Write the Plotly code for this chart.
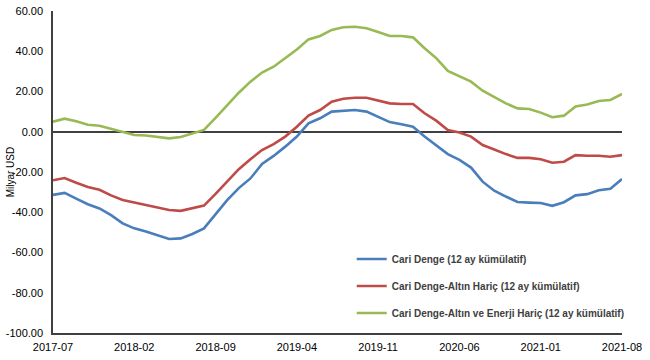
import plotly.graph_objects as go

months = [f"{2017 + (6 + i) // 12}-{(6 + i) % 12 + 1:02d}" for i in range(50)]

cari_denge = [-31.4, -30.4, -33.2, -36.0, -38.1, -41.4, -45.5, -48.0, -49.6, -51.6,
              -53.3, -53.0, -50.8, -48.0, -41.0, -34.0, -28.0, -23.2, -16.0, -12.0,
              -7.4, -2.4, 4.2, 6.7, 10.0, 10.3, 10.8, 10.0, 7.5, 4.8,
              3.7, 2.5, -2.4, -6.6, -11.1, -14.0, -17.8, -24.8, -29.3, -32.2,
              -34.9, -35.2, -35.4, -36.8, -35.0, -31.6, -31.0, -29.1, -28.3, -23.5]

altin_haric = [-24.1, -23.0, -25.3, -27.4, -28.8, -31.6, -33.9, -35.1, -36.5, -37.6,
               -38.9, -39.3, -38.1, -36.7, -30.9, -25.0, -18.6, -13.7, -9.1, -6.1,
               -2.4, 2.5, 8.0, 10.8, 14.9, 16.4, 16.9, 16.9, 15.4, 14.1,
               13.8, 13.8, 9.2, 5.5, 0.9, -0.4, -2.4, -6.6, -8.8, -11.1,
               -13.0, -13.0, -13.7, -15.4, -14.9, -11.6, -11.9, -11.9, -12.4, -11.6]

altin_enerji_haric = [5.0, 6.5, 5.2, 3.5, 3.0, 1.4, -0.3, -1.6, -1.9, -2.6,
                      -3.3, -2.6, -0.8, 0.9, 6.9, 13.1, 19.4, 24.9, 29.4, 32.3,
                      36.5, 40.9, 45.9, 47.6, 50.6, 51.9, 52.2, 51.4, 49.6, 47.6,
                      47.6, 46.9, 41.5, 36.6, 30.2, 27.7, 24.9, 20.4, 17.4, 14.1,
                      11.6, 11.3, 9.5, 7.2, 8.0, 12.5, 13.5, 15.3, 15.8, 18.8]

series_names = ["Cari Denge (12 ay kümülatif)",
                "Cari Denge-Altın Hariç (12 ay kümülatif)",
                "Cari Denge-Altın ve Enerji Hariç (12 ay kümülatif)"]
series_values = [cari_denge, altin_haric, altin_enerji_haric]
colors = ["#4A7EBB", "#BE4B48", "#98B954"]

tick_labels = months[::7]
y_ticks = [-100, -80, -60, -40, -20, 0, 20, 40, 60]

fig = go.Figure()
for i, (name, vals, col) in enumerate(zip(series_names, series_values, colors)):
    fig.add_trace(go.Scatter(x=months, y=vals, mode="lines", name=name,
                             legendgroup=f"g{i}",
                             line=dict(color=col, width=2.6)))

fig.update_layout(
    width=650, height=360,
    margin=dict(l=53, r=28, t=11, b=27),
    paper_bgcolor="white", plot_bgcolor="white",
    font=dict(family="Liberation Sans, Arial, sans-serif", color="#000000"),
    legend=dict(x=0.525, y=0.275, xanchor="left", yanchor="top",
                font=dict(size=10, color="#404040", weight="bold",
                          family="Liberation Sans, Arial, sans-serif"),
                itemwidth=30, tracegroupgap=8, bgcolor="rgba(0,0,0,0)",
                traceorder="grouped"),
    showlegend=True,
    annotations=[dict(text="Milyar USD", textangle=-90, xref="paper", yref="paper",
                      x=-0.075, y=0.5, xanchor="center", yanchor="middle",
                      showarrow=False, font=dict(size=10, color="#000000"))],
)
fig.update_xaxes(type="category", range=[0, 49], tickmode="array",
                 tickvals=tick_labels, ticktext=tick_labels,
                 showline=True, linecolor="#404040", linewidth=1.5,
                 showgrid=False, ticks="", tickfont=dict(size=11),
                 ticklabelstandoff=3, automargin=False)
fig.update_yaxes(range=[-100, 60], tickmode="array", tickvals=y_ticks,
                 ticktext=[f"{v:.2f}" for v in y_ticks],
                 showline=True, linecolor="#404040", linewidth=1.5,
                 showgrid=False, zeroline=True, zerolinecolor="#404040",
                 zerolinewidth=1.5, ticks="", tickfont=dict(size=11),
                 ticklabelstandoff=6, automargin=False)

fig.write_html("out.html",
               config={"displayModeBar": False},
               post_script="document.body.style.margin='0';document.body.style.overflow='hidden';")
